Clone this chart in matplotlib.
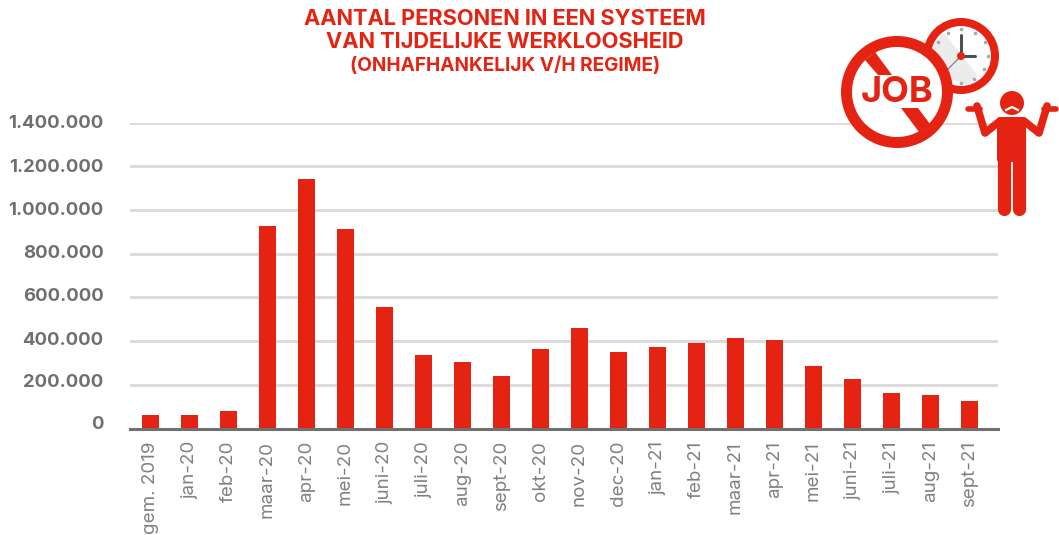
import matplotlib
matplotlib.use('Agg')
import matplotlib.pyplot as plt
from matplotlib.patches import Circle, Polygon, FancyBboxPatch
from matplotlib.transforms import ScaledTranslation

months = ['gem. 2019', 'jan-20', 'feb-20', 'maar-20', 'apr-20', 'mei-20', 'juni-20', 'juli-20',
          'aug-20', 'sept-20', 'okt-20', 'nov-20', 'dec-20', 'jan-21', 'feb-21', 'maar-21',
          'apr-21', 'mei-21', 'juni-21', 'juli-21', 'aug-21', 'sept-21']
persons = [60000, 64000, 78000, 927000, 1143000, 913000, 558000, 334000, 302000, 238000, 365000,
           458000, 348000, 375000, 389000, 416000, 403000, 284000, 228000, 164000, 151000, 124000]
yticks = [0, 200000, 400000, 600000, 800000, 1000000, 1200000, 1400000]
ylabels = ['0', '200.000', '400.000', '600.000', '800.000', '1.000.000', '1.200.000', '1.400.000']
# the axis labels sit a little above their gridlines in the original, most at the bottom
label_lift = [6, 4, 3, 3, 2, 1.5, 1, 1]

RED = '#e42313'
W, H = 1059, 535

plt.rcParams['font.family'] = ['Inter', 'DejaVu Sans']
fig = plt.figure(figsize=(W / 100, H / 100), dpi=100)

# chart area, in figure fractions from the pixel positions
ax = fig.add_axes([130 / W, 1 - 428.5 / H, 868 / W, 306 / H])
ax.bar(range(len(months)), persons, width=0.44, color=RED, zorder=3)
ax.set_xlim(-0.525, 21.735)
ax.set_ylim(0, 1400000)
ax.set_yticks(yticks)
ax.set_yticklabels(ylabels, fontsize=13.3, fontweight='bold', color='#6f6f6f')
ax.set_xticks(range(len(months)))
ax.set_xticklabels(months, rotation=90, fontsize=13.5, color='#808080')
ax.tick_params(axis='both', length=0)
ax.tick_params(axis='y', pad=19)
ax.tick_params(axis='x', pad=9)
ax.grid(axis='y', color='#dcdcdc', lw=2.2, zorder=0)
ax.set_axisbelow(True)
for s in ['top', 'right', 'left']:
    ax.spines[s].set_visible(False)
ax.spines['bottom'].set_color('#707070')
ax.spines['bottom'].set_linewidth(2.2)
ax.spines['bottom'].set_zorder(4)
for lab, lift in zip(ax.get_yticklabels(), label_lift):
    lab.set_transform(lab.get_transform() + ScaledTranslation(0, lift / 100, fig.dpi_scale_trans))

# overlay in pixel coordinates for the title and the pictogram
ov = fig.add_axes([0, 0, 1, 1], zorder=10)
ov.set_xlim(0, W)
ov.set_ylim(H, 0)
ov.axis('off')
ov.patch.set_alpha(0)

ov.text(505, 19, 'AANTAL PERSONEN IN EEN SYSTEEM', color=RED, fontsize=15.7, fontweight='bold', ha='center', va='center')
ov.text(505, 42, 'VAN TIJDELIJKE WERKLOOSHEID', color=RED, fontsize=15.7, fontweight='bold', ha='center', va='center')
ov.text(505, 66, '(ONHAFHANKELIJK V/H REGIME)', color=RED, fontsize=13.7, fontweight='bold', ha='center', va='center')

# clock
ov.add_patch(Circle((961, 56), 38, fc=RED, ec='none', zorder=1))
ov.add_patch(Circle((961, 56), 30, fc='white', ec='none', zorder=2))
band = Polygon([(933, 44), (944, 33), (978, 76), (966, 85), (948, 78)], fc='#ececec', ec='none', zorder=3)
ov.add_patch(band)
band.set_clip_path(Circle((961, 56), 30, transform=ov.transData))
ov.plot([961, 961], [56, 35], color='#505050', lw=2.2, zorder=4, solid_capstyle='round')
ov.plot([961, 975], [56, 56], color='#505050', lw=2.2, zorder=4, solid_capstyle='round')
ov.plot([961, 947], [56, 70], color='#808080', lw=0.9, zorder=4)
for x, y in [(961, 29), (948, 33), (938, 42), (985, 42), (988, 56), (984, 69), (974, 79), (961, 83), (975, 33)]:
    ov.plot(x, y, 's', ms=1.4, color='#aaaaaa', zorder=4)
ov.add_patch(Circle((961, 56), 4, fc=RED, ec='none', zorder=5))

# no-job sign
ov.add_patch(Circle((897, 92), 56, fc=RED, ec='none', zorder=6))
ov.add_patch(Circle((897, 92), 45, fc='white', ec='none', zorder=7))
ov.add_patch(Polygon([(865, 60), (875, 52), (892, 75), (878, 75)], fc=RED, ec='none', zorder=8))
ov.add_patch(Polygon([(901, 108), (918, 108), (930, 124), (919, 132)], fc=RED, ec='none', zorder=8))
ov.text(897, 93, 'JOB', color=RED, fontsize=26, fontweight='bold', ha='center', va='center', zorder=9)

# person
ov.add_patch(Circle((1012, 103), 12, fc=RED, ec='none', zorder=6))
ov.plot([1006, 1012, 1018], [110, 107, 110], color='white', lw=1.6, zorder=7)
ov.add_patch(FancyBboxPatch((999.5, 119.5), 24, 40, boxstyle='round,pad=2.5', fc=RED, ec='none', zorder=6))
ov.plot([1004, 1004], [125, 209], color=RED, lw=9.5, solid_capstyle='round', zorder=6)
ov.plot([1019, 1019], [125, 209], color=RED, lw=9.5, solid_capstyle='round', zorder=6)
ov.plot([1000, 985, 977], [121, 133, 106], color=RED, lw=5.5, solid_capstyle='round', solid_joinstyle='round', zorder=6)
ov.plot([968, 980], [109, 109], color=RED, lw=4, solid_capstyle='round', zorder=6)
ov.plot([1024, 1039, 1047], [121, 133, 106], color=RED, lw=5.5, solid_capstyle='round', solid_joinstyle='round', zorder=6)
ov.plot([1044, 1056], [109, 109], color=RED, lw=4, solid_capstyle='round', zorder=6)

fig.savefig('out.png', dpi=100)
